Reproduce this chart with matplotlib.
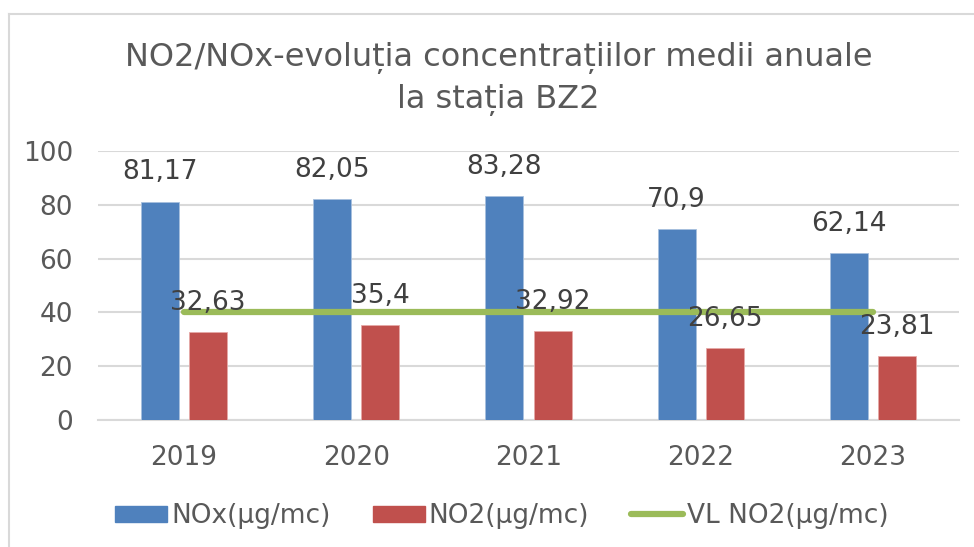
import matplotlib
matplotlib.use("Agg")
import matplotlib.pyplot as plt
from matplotlib.patches import Rectangle
from matplotlib.lines import Line2D
import numpy as np

years = ["2019", "2020", "2021", "2022", "2023"]
nox = [81.17, 82.05, 83.28, 70.9, 62.14]
no2 = [32.63, 35.4, 32.92, 26.65, 23.81]
vl_no2 = [40, 40, 40, 40, 40]
series_names = ["NOx(µg/mc)", "NO2(µg/mc)", "VL NO2(µg/mc)"]
title = "NO2/NOx-evoluția concentrațiilor medii anuale\nla stația BZ2"
yticks = [0, 20, 40, 60, 80, 100]

def fmt(v):
    s = ("%.2f" % v).rstrip("0").rstrip(".")
    return s.replace(".", ",")

plt.rcParams['font.family'] = ['DejaVu Sans']
TXT = "#595959"
BLUE = "#4F81BD"
RED = "#C0504D"
GREEN = "#9BBB59"
GRID = "#D9D9D9"

fig = plt.figure(figsize=(9.74, 5.47), dpi=100)
ax = fig.add_axes([98/974, 1-420/547, (959-98)/974, (420-151)/547])

x = np.arange(len(years))
w = 0.22
off = 0.14
ax.bar(x - off, nox, w, color=BLUE, edgecolor="#A7C0DE", linewidth=0.6, zorder=3)
ax.bar(x + off, no2, w, color=RED, edgecolor="#E6A9A7", linewidth=0.6, zorder=3)
ax.plot(x, vl_no2, color=GREEN, lw=4.5, solid_capstyle="round", zorder=4)

for xi, v in zip(x - off, nox):
    ax.annotate(fmt(v), (xi, v), xytext=(0, 21), textcoords="offset points",
                ha="center", va="center", fontsize=19, color="#404040", zorder=5)
for xi, v in zip(x + off, no2):
    ax.annotate(fmt(v), (xi, v), xytext=(0, 21), textcoords="offset points",
                ha="center", va="center", fontsize=19, color="#404040", zorder=5)

ax.set_xlim(-0.5, len(years) - 0.5)
ax.set_ylim(0, 100)
ax.set_yticks(yticks)
ax.set_yticklabels([str(t) for t in yticks])
ax.set_xticks(x)
ax.set_xticklabels(years)
ax.tick_params(axis="both", length=0, labelsize=19, labelcolor=TXT)
ax.tick_params(axis="y", pad=18)
ax.tick_params(axis="x", pad=18)
for s in ["top", "right", "left"]:
    ax.spines[s].set_visible(False)
ax.spines["bottom"].set_color(GRID)
ax.spines["bottom"].set_linewidth(1.5)
ax.yaxis.grid(True, color=GRID, linewidth=1.5, zorder=0)
ax.set_axisbelow(True)

fig.text(0.512, 1-79/547, title, ha="center", va="center", fontsize=23,
         color=TXT, linespacing=1.45)

handles = [Rectangle((0, 0), 1, 1, color=BLUE), Rectangle((0, 0), 1, 1, color=RED),
           Line2D([], [], color=GREEN, lw=4.5, solid_capstyle="round")]
fig.legend(handles, series_names, loc="center", bbox_to_anchor=(502/974, 1-516/547),
           ncol=3, frameon=False, fontsize=19, labelcolor=TXT, handlelength=1.97,
           handleheight=0.55, handletextpad=0.15, columnspacing=1.6)

# chart border (left and top visible)
fig.add_artist(Line2D([9/974, 9/974], [0, 1-14/547], color=GRID, lw=1.5))
fig.add_artist(Line2D([9/974, 1], [1-14/547, 1-14/547], color=GRID, lw=1.5))

fig.savefig("out.png", dpi=100)
